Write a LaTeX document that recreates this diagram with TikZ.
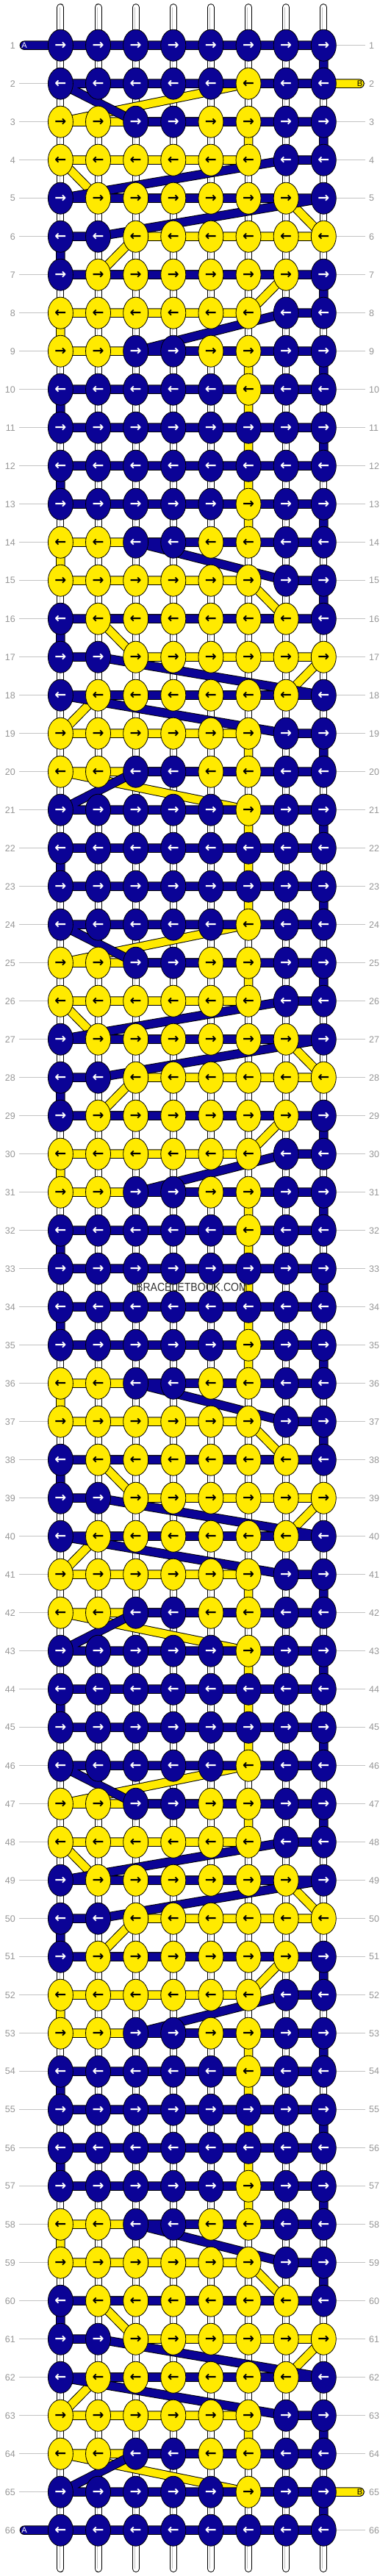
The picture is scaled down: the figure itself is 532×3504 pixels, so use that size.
\documentclass[tikz,border=0pt]{standalone}
\usepackage{fontspec}
\setmainfont{Liberation Sans}
\newfontfamily\arrowfont{DejaVu Sans}
\usetikzlibrary{shapes.geometric}
\definecolor{sblue}{RGB}{11,3,150}
\definecolor{syellow}{RGB}{255,234,0}
\definecolor{labgray}{RGB}{150,150,150}
\definecolor{linegray}{RGB}{195,195,195}
\def\pickc#1#2#3#4#5#6#7#8#9{\ifcase#9\or#1\or#2\or#3\or#4\or#5\or#6\or#7\or#8\fi}
\def\cyc{00000100,11001100,11111100,01111110,00111111,01111110,11111100,11001100,00000100}
\def\zz{00000000}
\edef\rowsdata{\zz,\cyc,\zz,\zz,\cyc,\zz,\zz,\cyc,\zz,\zz,\cyc,\zz,\zz,\cyc,\zz,\zz,\cyc,\zz}
\begin{document}
\begin{tikzpicture}[x=1pt,y=-1pt,
  knot/.style={ellipse,draw=black,line width=0.8pt,minimum width=34pt,minimum height=43pt,inner sep=0pt,
    font=\arrowfont\bfseries\fontsize{19}{19}\selectfont,text height=12pt,text depth=0pt},
  rowlab/.style={font=\fontsize{12.5}{12.5}\selectfont,text=labgray,inner sep=0pt},
  rowline/.style={draw=linegray,line width=1pt},
  warpout/.style={draw=black,line width=10pt,line cap=round},
  warpin/.style={draw=white,line width=8pt,line cap=round},
  warpmid/.style={draw=black!25,line width=0.8pt},
  strout/.style={draw=black,line width=12.5pt,line cap=round,line join=round},
  ystr/.style={draw=syellow,line width=10.5pt,line cap=round,line join=round},
  bstr/.style={draw=sblue,line width=10.5pt,line cap=round,line join=round},
  endlab/.style={font=\fontsize{11}{11}\selectfont,inner sep=0pt}]
\useasboundingbox (0,0) rectangle (532,3504);
\fill[white] (0,0) rectangle (532,3504);
% grid points
\foreach \rr in {1,...,66}{\foreach \kx in {1,...,8}{
  \coordinate (p-\rr-\kx) at ({82.4+(\kx-1)*51.13},{61.7+(\rr-1)*52});}}
\coordinate (A1) at (33,61.7);
\coordinate (B1) at (489.5,113.7);
\coordinate (B2) at (489.5,3389.7);
\coordinate (A2) at (33,3441.7);
% row numbers and lines
\foreach \rr in {1,...,66}{
  \pgfmathsetmacro\yy{61.7+(\rr-1)*52}
  \node[rowlab,anchor=east] (ll\rr) at (21,\yy) {\rr};
  \node[rowlab,anchor=west] (rl\rr) at (502,\yy) {\rr};
  \draw[rowline] ([xshift=5pt]ll\rr.east) -- (p-\rr-1);
  \draw[rowline] (p-\rr-8) -- ([xshift=-5pt]rl\rr.west);
}
% warp strings
\foreach \kx in {1,...,8}{
  \pgfmathsetmacro\xx{82.4+(\kx-1)*51.13}
  \coordinate (t\kx) at (\xx,10);
  \coordinate (e\kx) at (\xx,3494);
  \draw[warpout] (t\kx) -- (e\kx);
  \draw[warpin] (t\kx) -- (e\kx);
  \draw[warpmid] ([xshift=-1.5pt]t\kx) -- ([xshift=-1.5pt]e\kx);
}
% working strings
\gdef\bpath{(A1)}
\gdef\ypath{(B1)}
\foreach \pat [count=\rr] in \rowsdata {
  \foreach \kx in {1,...,8}{
    \ifodd\rr\relax \edef\kk{\kx}\else \pgfmathtruncatemacro\kk{9-\kx}\fi
    \edef\kc{\expandafter\pickc\pat\kk}
    \if\kc1\relax \xdef\ypath{\ypath -- (p-\rr-\kk)}\else \xdef\bpath{\bpath -- (p-\rr-\kk)}\fi
  }
}
\xdef\bpath{\bpath -- (A2)}
\xdef\ypath{\ypath -- (B2)}
\edef\drawstrings{%
  \noexpand\draw[strout] \ypath;
  \noexpand\draw[ystr] \ypath;
  \noexpand\draw[strout] \bpath;
  \noexpand\draw[bstr] \bpath;
}
\drawstrings
% knots
\foreach \pat [count=\rr] in \rowsdata {
  \foreach \kx in {1,...,8}{
    \edef\kc{\expandafter\pickc\pat\kx}
    \ifodd\rr\relax\def\arr{→}\else\def\arr{←}\fi
    \if\kc1\relax\def\kfill{syellow}\def\ktext{black}\else\def\kfill{sblue}\def\ktext{white}\fi
    \node[knot,fill=\kfill,text=\ktext] (k-\rr-\kx) at (p-\rr-\kx) {\arr};
  }
}
% end labels
\node[endlab,text=white] (labA1) at (A1) {A};
\node[endlab,text=black] (labB1) at (B1) {B};
\node[endlab,text=black] (labB2) at (B2) {B};
\node[endlab,text=white] (labA2) at (A2) {A};
% watermark
\node[font=\fontsize{16}{16}\selectfont,text=black!80,inner sep=0pt] (wm) at (261,1751) {\scalebox{0.88}[1]{BRACELETBOOK.COM}};
\end{tikzpicture}
\end{document}
